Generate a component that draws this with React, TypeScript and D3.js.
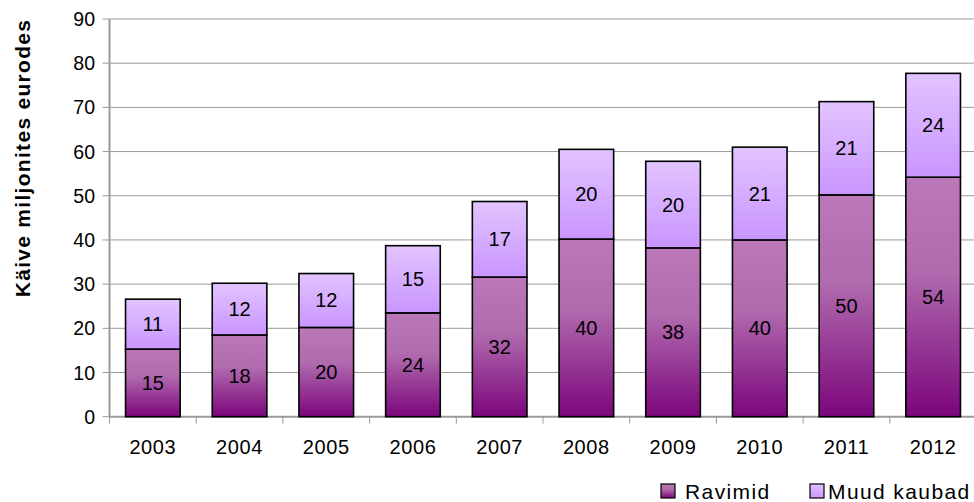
import React from 'react';
import * as d3 from 'd3';

const years = ['2003', '2004', '2005', '2006', '2007', '2008', '2009', '2010', '2011', '2012'];
const ravimid = [15.3, 18.5, 20.2, 23.5, 31.6, 40.2, 38.2, 40.0, 50.2, 54.2];
const muud = [11.3, 11.7, 12.2, 15.2, 17.1, 20.3, 19.6, 21.0, 21.1, 23.5];
const ravimidLabels = ['15', '18', '20', '24', '32', '40', '38', '40', '50', '54'];
const muudLabels = ['11', '12', '12', '15', '17', '20', '20', '21', '21', '24'];
const yTicks = [0, 10, 20, 30, 40, 50, 60, 70, 80, 90];

const width = 974;
const height = 502;
const font = '"Liberation Sans", Arial, sans-serif';

const App: React.FC = () => {
  const left = 109.5;
  const right = 976.5;
  const top = 19;
  const bottom = 416.7;

  const x = d3.scaleBand<string>()
    .domain(years)
    .range([left, right])
    .paddingInner(0.37)
    .paddingOuter(0.185);

  const y = d3.scaleLinear().domain([0, 90]).range([bottom, top]);

  const step = x.step();
  const bw = x.bandwidth();
  const boundaries = years.map(yr => (x(yr) as number) - (step * 0.37) / 2);
  boundaries.push((x(years[years.length - 1]) as number) + bw + (step * 0.37) / 2);

  return (
    <svg width={width} height={height} style={{ position: 'absolute', left: 0, top: 0, background: '#fff' }}>
      <defs>
        <linearGradient id="gRav" x1="0" y1="0" x2="0" y2="1">
          <stop offset="0%" stopColor="#bb78b8" />
          <stop offset="40%" stopColor="#b06aae" />
          <stop offset="100%" stopColor="#7c067c" />
        </linearGradient>
        <linearGradient id="gMuud" x1="0" y1="0" x2="0" y2="1">
          <stop offset="0%" stopColor="#e2c4ff" />
          <stop offset="100%" stopColor="#c995ff" />
        </linearGradient>
      </defs>

      {/* gridlines */}
      {yTicks.filter(t => t > 0).map(t => (
        <line key={t} x1={left} x2={width} y1={y(t)} y2={y(t)} stroke="#9a9a9a" strokeWidth={1} />
      ))}

      {/* axes */}
      <line x1={left} x2={left} y1={top} y2={bottom} stroke="#9a9a9a" strokeWidth={2} />
      <line x1={left} x2={width} y1={bottom} y2={bottom} stroke="#9a9a9a" strokeWidth={2} />
      {yTicks.map(t => (
        <g key={t}>
          <line x1={left - 7} x2={left} y1={y(t)} y2={y(t)} stroke="#9a9a9a" strokeWidth={1} />
          <text x={95} y={y(t)} textAnchor="end" dominantBaseline="central"
            fontFamily={font} fontSize={19.5} fill="#000">{t}</text>
        </g>
      ))}
      {boundaries.map((b, i) => (
        <line key={i} x1={b} x2={b} y1={bottom} y2={bottom + 7} stroke="#9a9a9a" strokeWidth={1} />
      ))}
      {years.map(yr => (
        <text key={yr} x={(x(yr) as number) + bw / 2} y={447} textAnchor="middle" dominantBaseline="central"
          fontFamily={font} fontSize={20} letterSpacing={0.6} fill="#000">{yr}</text>
      ))}

      {/* bars */}
      {years.map((yr, i) => {
        const bx = x(yr) as number;
        const r0 = y(0);
        const r1 = y(ravimid[i]);
        const m1 = y(ravimid[i] + muud[i]);
        return (
          <g key={yr}>
            <rect x={bx} y={r1} width={bw} height={r0 - r1} fill="url(#gRav)" stroke="#000" strokeWidth={1.6} />
            <rect x={bx} y={m1} width={bw} height={r1 - m1} fill="url(#gMuud)" stroke="#000" strokeWidth={1.6} />
            <text x={bx + bw / 2} y={(r0 + r1) / 2} textAnchor="middle" dominantBaseline="central"
              fontFamily={font} fontSize={20} fill="#000">{ravimidLabels[i]}</text>
            <text x={bx + bw / 2} y={(r1 + m1) / 2} textAnchor="middle" dominantBaseline="central"
              fontFamily={font} fontSize={20} fill="#000">{muudLabels[i]}</text>
          </g>
        );
      })}

      {/* y axis title */}
      <text transform="translate(22,158) rotate(-90)" textAnchor="middle" dominantBaseline="central"
        fontFamily={font} fontSize={21} fontWeight="bold" letterSpacing={1.3} fill="#000">Käive miljonites eurodes</text>

      {/* legend */}
      <g>
        <rect x={661} y={484} width={14} height={14} fill="url(#gRav)" stroke="#000" strokeWidth={1.2} />
        <text x={685} y={491} dominantBaseline="central" fontFamily={font} fontSize={21}
          letterSpacing={1.4} fill="#000">Ravimid</text>
        <rect x={810} y={484} width={14} height={14} fill="url(#gMuud)" stroke="#000" strokeWidth={1.2} />
        <text x={828} y={491} dominantBaseline="central" fontFamily={font} fontSize={21}
          letterSpacing={1.4} fill="#000">Muud kaubad</text>
      </g>
    </svg>
  );
};

export default App;
